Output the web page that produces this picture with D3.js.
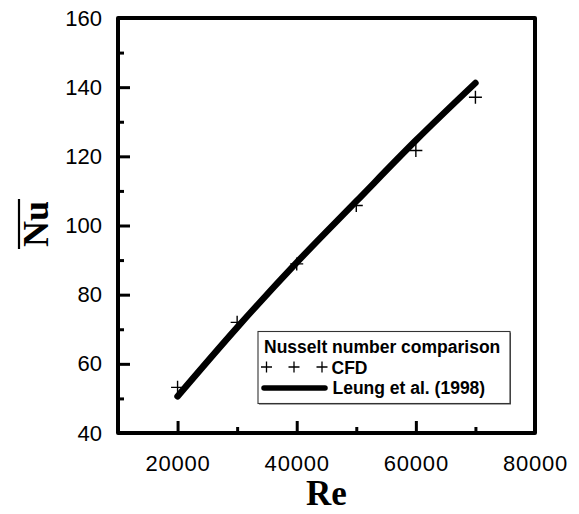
<!DOCTYPE html>
<html>
<head>
<meta charset="utf-8">
<script src="https://cdn.jsdelivr.net/npm/d3@7"></script>
<style>
html,body{margin:0;padding:0;background:#fff;}
svg{display:block;}
</style>
</head>
<body>
<svg id="chart" width="579" height="514"></svg>
<script>
// ---- data ----
const reValues = [20000, 30000, 40000, 50000, 60000, 70000];
const cfdNu = [53.2, 72.0, 88.9, 105.8, 121.7, 137.1];
const leungNu = [50.6, 70.5, 89.3, 107.0, 124.6, 141.2];
const xMajorTicks = [20000, 40000, 60000, 80000];
const xMinorTicks = [10000, 30000, 50000, 70000];
const yMajorTicks = [40, 60, 80, 100, 120, 140, 160];
const yMinorTicks = [50, 70, 90, 110, 130, 150];
const legendTitle = "Nusselt number comparison";
const seriesNames = ["CFD", "Leung et al. (1998)"];
const xTitle = "Re";
const yTitle = "Nu";

// ---- layout ----
const L = 118, R = 535, T = 18, B = 433;
const svg = d3.select("#chart");
const x = d3.scaleLinear().domain([10000, 80000]).range([L, R]);
const y = d3.scaleLinear().domain([40, 160]).range([B, T]);
const sans = "'Liberation Sans', Arial, sans-serif";
const serif = "'Liberation Serif', 'Times New Roman', serif";

// x axis major
const gx = svg.append("g").attr("transform", `translate(0,${B})`)
  .call(d3.axisBottom(x).tickValues(xMajorTicks).tickSize(-12).tickPadding(22).tickFormat(d3.format("d")));
gx.select(".domain").remove();
gx.selectAll(".tick line").attr("stroke", "#000").attr("stroke-width", 3);
gx.selectAll(".tick text").attr("font-family", sans).attr("font-size", 22).attr("fill", "#000")
  .attr("letter-spacing", "0.8px");
const gxm = svg.append("g").attr("transform", `translate(0,${B})`)
  .call(d3.axisBottom(x).tickValues(xMinorTicks).tickSize(-6).tickFormat(""));
gxm.select(".domain").remove();
gxm.selectAll(".tick line").attr("stroke", "#000").attr("stroke-width", 3);

// y axis major
const gy = svg.append("g").attr("transform", `translate(${L},0)`)
  .call(d3.axisLeft(y).tickValues(yMajorTicks).tickSize(-12).tickPadding(16).tickFormat(d3.format("d")));
gy.select(".domain").remove();
gy.selectAll(".tick line").attr("stroke", "#000").attr("stroke-width", 3);
gy.selectAll(".tick text").attr("font-family", sans).attr("font-size", 22).attr("fill", "#000");
const gym = svg.append("g").attr("transform", `translate(${L},0)`)
  .call(d3.axisLeft(y).tickValues(yMinorTicks).tickSize(-6).tickFormat(""));
gym.select(".domain").remove();
gym.selectAll(".tick line").attr("stroke", "#000").attr("stroke-width", 3);

// frame
svg.append("rect").attr("x", L).attr("y", T).attr("width", R - L).attr("height", B - T)
  .attr("fill", "none").attr("stroke", "#000").attr("stroke-width", 4).attr("stroke-linejoin", "round");

// Leung line
const line = d3.line().x((d, i) => x(reValues[i])).y(d => y(d)).curve(d3.curveMonotoneX);
svg.append("path").datum(leungNu).attr("d", line)
  .attr("fill", "none").attr("stroke", "#000").attr("stroke-width", 6.5).attr("stroke-linecap", "round");

// CFD crosses
const cs = 6.5;
svg.append("g").selectAll("path").data(cfdNu).join("path")
  .attr("d", (d, i) => {
    const cx = x(reValues[i]), cy = y(d);
    return `M${cx - cs},${cy}H${cx + cs}M${cx},${cy - cs}V${cy + cs}`;
  })
  .attr("stroke", "#000").attr("stroke-width", 1.4).attr("fill", "none");

// legend
const lfs = 17.5;
const lg = svg.append("g");
lg.append("rect").attr("x", 259).attr("y", 332.5).attr("width", 252).attr("height", 72)
  .attr("fill", "#555");
lg.append("rect").attr("x", 258).attr("y", 331.5).attr("width", 252).attr("height", 72)
  .attr("fill", "#fff").attr("stroke", "#333").attr("stroke-width", 1.1);
lg.append("text").attr("x", 264).attr("y", 352.5).text(legendTitle)
  .attr("font-family", sans).attr("font-weight", "bold").attr("font-size", lfs).attr("fill", "#000");
const lcs = 5.5;
[266.5, 294, 322].forEach(cx => {
  const cy = 367;
  lg.append("path").attr("d", `M${cx - lcs},${cy}H${cx + lcs}M${cx},${cy - lcs}V${cy + lcs}`)
    .attr("stroke", "#000").attr("stroke-width", 1.3);
});
lg.append("text").attr("x", 331.5).attr("y", 373.5).text(seriesNames[0])
  .attr("font-family", sans).attr("font-weight", "bold").attr("font-size", lfs).attr("fill", "#000");
lg.append("line").attr("x1", 264).attr("x2", 325).attr("y1", 388).attr("y2", 388)
  .attr("stroke", "#000").attr("stroke-width", 5.5).attr("stroke-linecap", "round");
lg.append("text").attr("x", 332.5).attr("y", 394).text(seriesNames[1])
  .attr("font-family", sans).attr("font-weight", "bold").attr("font-size", lfs).attr("fill", "#000");

// axis titles
svg.append("text").attr("x", (L + R) / 2).attr("y", 505).attr("text-anchor", "middle")
  .attr("font-family", serif).attr("font-weight", "bold").attr("font-size", 35).attr("fill", "#000")
  .text(xTitle);
const yt = svg.append("g").attr("transform", "translate(48,224) rotate(-90)");
const ytText = yt.append("text").attr("x", 0).attr("y", 0).attr("text-anchor", "middle")
  .attr("font-family", serif).attr("font-weight", "bold").attr("font-size", 36).attr("fill", "#000")
  .text(yTitle);
const bb = ytText.node().getBBox();
yt.append("line").attr("x1", bb.x - 2).attr("x2", bb.x + bb.width + 2).attr("y1", -29).attr("y2", -29)
  .attr("stroke", "#000").attr("stroke-width", 2.2);
</script>
</body>
</html>
